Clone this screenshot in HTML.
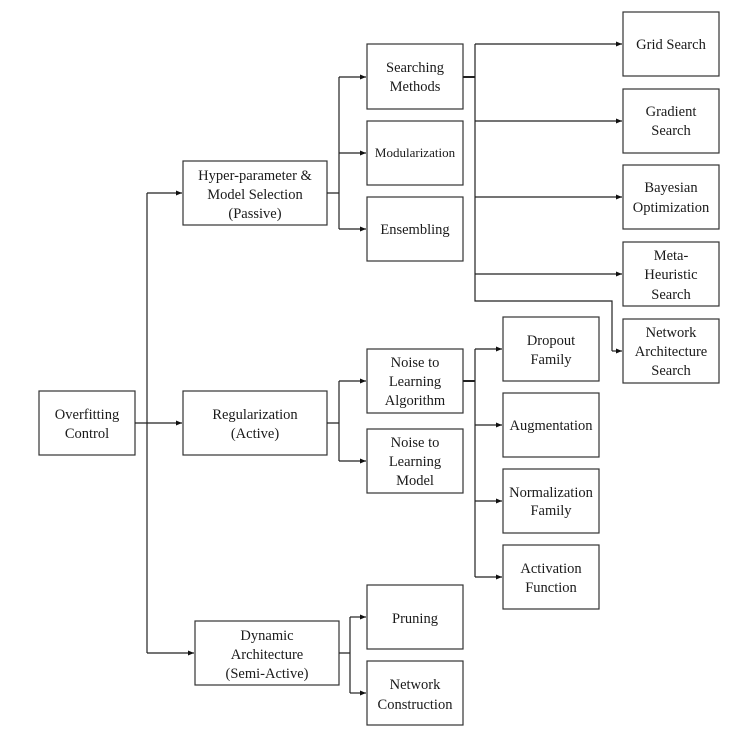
<!DOCTYPE html>
<html><head><meta charset="utf-8"><style>
html,body{margin:0;padding:0;background:#fff;}
svg text{font-family:"Liberation Serif",serif;font-size:14.5px;fill:#1a1a1a;text-anchor:middle;}
</style></head><body>
<svg width="741" height="736" viewBox="0 0 741 736" xmlns="http://www.w3.org/2000/svg">
<defs><marker id="a" markerWidth="6" markerHeight="6" refX="6" refY="3" orient="auto" markerUnits="userSpaceOnUse"><path d="M0,0.5 L6,3 L0,5.5 z" fill="#111"/></marker></defs>
<g fill="none" stroke="#333" stroke-width="1.2">
<rect x="39" y="391" width="96" height="64"/>
<rect x="183" y="161" width="144" height="64"/>
<rect x="183" y="391" width="144" height="64"/>
<rect x="195" y="621" width="144" height="64"/>
<rect x="367" y="44" width="96" height="65"/>
<rect x="367" y="121" width="96" height="64"/>
<rect x="367" y="197" width="96" height="64"/>
<rect x="367" y="349" width="96" height="64"/>
<rect x="367" y="429" width="96" height="64"/>
<rect x="367" y="585" width="96" height="64"/>
<rect x="367" y="661" width="96" height="64"/>
<rect x="623" y="12" width="96" height="64"/>
<rect x="623" y="89" width="96" height="64"/>
<rect x="623" y="165" width="96" height="64"/>
<rect x="623" y="242" width="96" height="64"/>
<rect x="623" y="319" width="96" height="64"/>
<rect x="503" y="317" width="96" height="64"/>
<rect x="503" y="393" width="96" height="64"/>
<rect x="503" y="469" width="96" height="64"/>
<rect x="503" y="545" width="96" height="64"/>
</g>
<g fill="none" stroke="#222" stroke-width="1.2">
<path d="M135,423 H182" marker-end="url(#a)"/>
<path d="M147,193 V653"/>
<path d="M147,193 H182" marker-end="url(#a)"/>
<path d="M147,653 H194" marker-end="url(#a)"/>
<path d="M327,193 H339 M339,77 V229"/>
<path d="M339,77 H366" marker-end="url(#a)"/>
<path d="M339,153 H366" marker-end="url(#a)"/>
<path d="M339,229 H366" marker-end="url(#a)"/>
<path d="M463,77 H475" stroke-width="2"/>
<path d="M475,44 V301 H612 V351"/>
<path d="M475,44 H622" marker-end="url(#a)"/>
<path d="M475,121 H622" marker-end="url(#a)"/>
<path d="M475,197 H622" marker-end="url(#a)"/>
<path d="M475,274 H622" marker-end="url(#a)"/>
<path d="M612,351 H622" marker-end="url(#a)"/>
<path d="M327,423 H339 M339,381 V461"/>
<path d="M339,381 H366" marker-end="url(#a)"/>
<path d="M339,461 H366" marker-end="url(#a)"/>
<path d="M463,381 H475" stroke-width="2"/>
<path d="M475,349 V577"/>
<path d="M475,349 H502" marker-end="url(#a)"/>
<path d="M475,425 H502" marker-end="url(#a)"/>
<path d="M475,501 H502" marker-end="url(#a)"/>
<path d="M475,577 H502" marker-end="url(#a)"/>
<path d="M339,653 H350 M350,617 V693"/>
<path d="M350,617 H366" marker-end="url(#a)"/>
<path d="M350,693 H366" marker-end="url(#a)"/>
</g>
<text x="87" y="419">Overfitting</text><text x="87" y="438">Control</text>
<text x="255" y="180">Hyper-parameter &amp;</text><text x="255" y="199">Model Selection</text><text x="255" y="218">(Passive)</text>
<text x="255" y="419">Regularization</text><text x="255" y="438">(Active)</text>
<text x="267" y="640">Dynamic</text><text x="267" y="659">Architecture</text><text x="267" y="678">(Semi-Active)</text>
<text x="415" y="72">Searching</text><text x="415" y="91">Methods</text>
<text x="415" y="157" style="font-size:13px">Modularization</text>
<text x="415" y="234">Ensembling</text>
<text x="415" y="367">Noise to</text><text x="415" y="386">Learning</text><text x="415" y="405">Algorithm</text>
<text x="415" y="447">Noise to</text><text x="415" y="466">Learning</text><text x="415" y="485">Model</text>
<text x="415" y="623">Pruning</text>
<text x="415" y="689">Network</text><text x="415" y="709">Construction</text>
<text x="671" y="49">Grid Search</text>
<text x="671" y="116">Gradient</text><text x="671" y="135">Search</text>
<text x="671" y="192">Bayesian</text><text x="671" y="212">Optimization</text>
<text x="671" y="260">Meta-</text><text x="671" y="279">Heuristic</text><text x="671" y="299">Search</text>
<text x="671" y="337">Network</text><text x="671" y="356">Architecture</text><text x="671" y="375">Search</text>
<text x="551" y="345">Dropout</text><text x="551" y="364">Family</text>
<text x="551" y="430">Augmentation</text>
<text x="551" y="497">Normalization</text><text x="551" y="515">Family</text>
<text x="551" y="573">Activation</text><text x="551" y="592">Function</text>
</svg>
</body></html>
